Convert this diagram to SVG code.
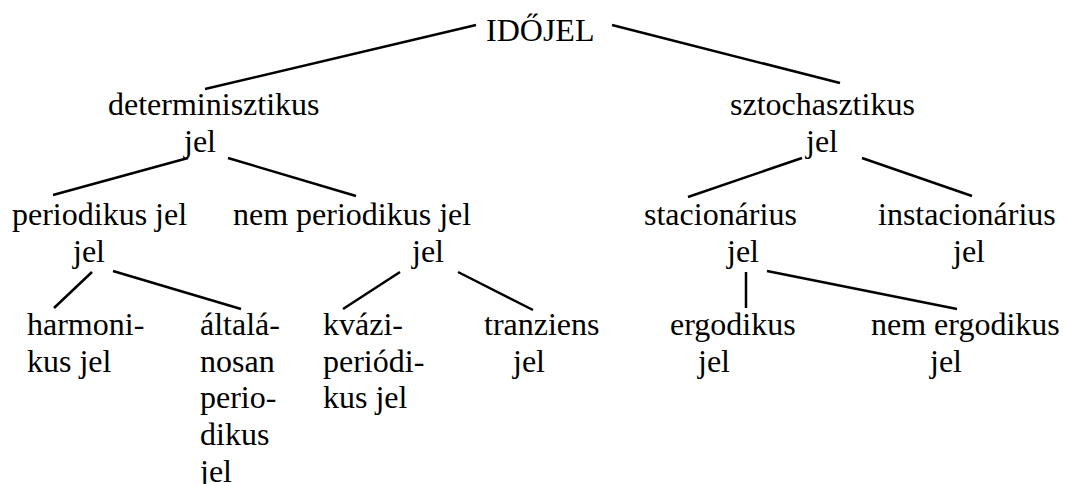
<svg xmlns="http://www.w3.org/2000/svg" width="1068" height="484" viewBox="0 0 1068 484" font-family="'Liberation Serif', Tinos, 'DejaVu Serif', serif" font-size="32">
<style>
text { font-family: 'Liberation Serif', Tinos, 'Times New Roman', 'DejaVu Serif', serif; font-size: 32px; fill: #000; }
.c line { stroke: #000; stroke-width: 2.5; stroke-linecap: butt; }
</style>
<rect width="1068" height="484" fill="#fff"/>
<g class="c" id="connectors">
<line x1="476" y1="25" x2="205" y2="89"/>
<line x1="612" y1="25" x2="840" y2="83"/>
<line x1="188" y1="158" x2="53" y2="195"/>
<line x1="228" y1="158" x2="356" y2="196"/>
<line x1="802" y1="158" x2="688" y2="197"/>
<line x1="862" y1="158" x2="972" y2="196"/>
<line x1="92" y1="272" x2="54" y2="308"/>
<line x1="113" y1="271" x2="241" y2="309"/>
<line x1="400" y1="272" x2="343" y2="309"/>
<line x1="458" y1="272" x2="533" y2="310"/>
<line x1="746" y1="272" x2="746" y2="308"/>
<line x1="767" y1="271" x2="957" y2="309"/>
</g>
<g id="idojel"><text x="486" y="41">IDŐJEL</text></g>
<g id="determinisztikus"><text x="108" y="115">determinisztikus</text><text x="184" y="152">jel</text></g>
<g id="sztochasztikus"><text x="730" y="115">sztochasztikus</text><text x="806" y="152">jel</text></g>
<g id="periodikus"><text x="12" y="225">periodikus jel</text><text x="73" y="262">jel</text></g>
<g id="nemperiodikus"><text x="233" y="225">nem periodikus jel</text><text x="412" y="262">jel</text></g>
<g id="stacionarius"><text x="644" y="225">stacionárius</text><text x="727" y="262">jel</text></g>
<g id="instacionarius"><text x="878" y="225">instacionárius</text><text x="953" y="262">jel</text></g>
<g id="harmonikus"><text x="27" y="335">harmoni-</text><text x="27" y="371.7">kus jel</text></g>
<g id="altalanosan"><text x="200" y="335">általá-</text><text x="200" y="371.7">nosan</text><text x="200" y="408.4">perio-</text><text x="200" y="445.1">dikus</text><text x="200" y="481.8">jel</text></g>
<g id="kvaziperiodikus"><text x="323" y="335">kvázi-</text><text x="323" y="371.7">periódi-</text><text x="323" y="408.4">kus jel</text></g>
<g id="tranziens"><text x="484" y="335">tranziens</text><text x="513" y="371.7">jel</text></g>
<g id="ergodikus"><text x="670" y="335">ergodikus</text><text x="698" y="371.7">jel</text></g>
<g id="nemergodikus"><text x="871" y="335">nem ergodikus</text><text x="930" y="371.7">jel</text></g>
</svg>
